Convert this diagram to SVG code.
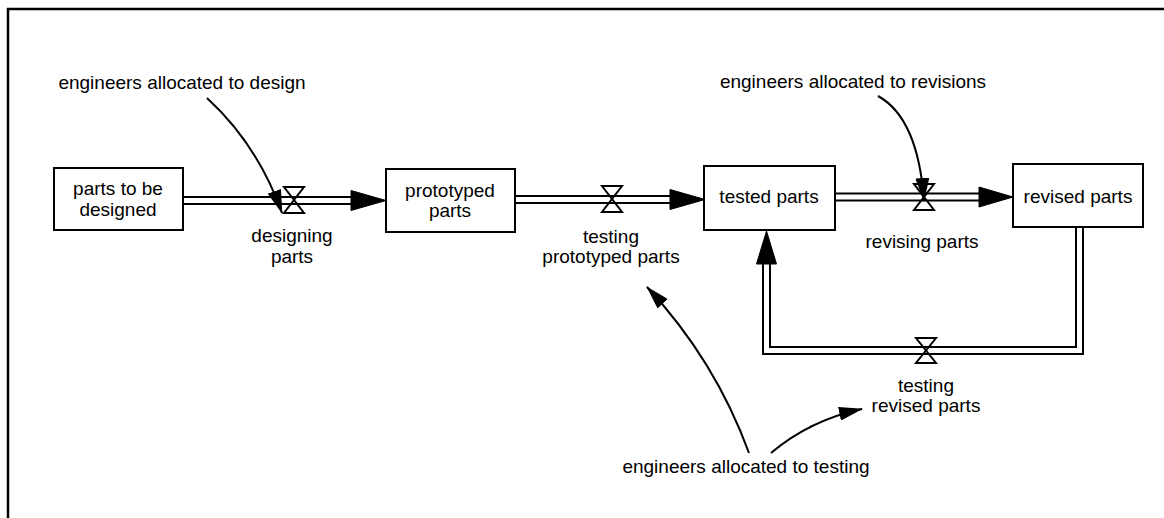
<svg xmlns="http://www.w3.org/2000/svg" width="1164" height="518" viewBox="0 0 1164 518">
<style>
text{font-family:"Liberation Sans",Arial,sans-serif;font-size:19px;fill:#000;text-anchor:middle}
.box{fill:#fff;stroke:#000;stroke-width:2}
.pipeO{fill:none;stroke:#000;stroke-width:9}
.pipeI{fill:none;stroke:#fff;stroke-width:5}
.valve{fill:none;stroke:#000;stroke-width:2;stroke-linejoin:miter}
.head{fill:#000;stroke:#000;stroke-width:1}
.inf{fill:none;stroke:#000;stroke-width:2;marker-end:url(#ah)}
.frame{stroke:#000;stroke-width:2.5;fill:none}
</style>
<defs>
<marker id="ah" markerUnits="userSpaceOnUse" markerWidth="24" markerHeight="14" viewBox="0 0 24 14" refX="23" refY="7" orient="auto">
<path d="M0,0 L24,7 L0,14 Z" fill="#000"/>
</marker>
</defs>
<rect width="1164" height="518" fill="#fff"/>
<g id="frame">
<path class="frame" d="M7,9 H1164 M8,8 V518"/>
</g>
<g id="connectors">
<!-- flow pipes -->
<path class="pipeO" d="M183,200.5 H352"/>
<path class="pipeI" d="M183,200.5 H352"/>
<path class="pipeO" d="M515,199.5 H671"/>
<path class="pipeI" d="M515,199.5 H671"/>
<path class="pipeO" d="M835,197 H980"/>
<path class="pipeI" d="M835,197 H980"/>
<path class="pipeO" d="M1079.5,228 V350.5 H766.5 V263"/>
<path class="pipeI" d="M1079.5,228 V350.5 H766.5 V263"/>
<!-- flow arrowheads -->
<polygon class="head" points="351,190.5 386,200.5 351,210.5"/>
<polygon class="head" points="670,189.5 705,199.5 670,209.5"/>
<polygon class="head" points="979,187 1013,197 979,207"/>
<polygon class="head" points="756.5,264 766.5,231 776.5,264"/>
<!-- influence arrows -->
<path class="inf" d="M207,98 Q258,145 282,213"/>
<path class="inf" d="M878,96 Q918,118 924,201"/>
<path class="inf" d="M749,453 Q715,360 647,287"/>
<path class="inf" d="M771,453 Q810,420 862,409"/>
</g>
<g id="stock-parts-to-be-designed">
<rect class="box" x="54" y="168" width="129" height="62"/>
<text x="118" y="195">parts to be</text>
<text x="118" y="216">designed</text>
</g>
<g id="stock-prototyped-parts">
<rect class="box" x="386" y="169" width="129" height="63"/>
<text x="450" y="197">prototyped</text>
<text x="450" y="217">parts</text>
</g>
<g id="stock-tested-parts">
<rect class="box" x="704" y="166" width="131" height="64"/>
<text x="769" y="203">tested parts</text>
</g>
<g id="stock-revised-parts">
<rect class="box" x="1013" y="164" width="130" height="63"/>
<text x="1078" y="203">revised parts</text>
</g>
<g id="flow-designing-parts">
<path class="valve" d="M284,187 H304 L284,213 H304 Z"/>
<text x="292" y="242">designing</text>
<text x="292" y="263">parts</text>
</g>
<g id="flow-testing-prototyped-parts">
<path class="valve" d="M602,186 H622 L602,212 H622 Z"/>
<text x="611" y="243">testing</text>
<text x="611" y="263">prototyped parts</text>
</g>
<g id="flow-revising-parts">
<path class="valve" d="M914,184 H934 L914,210 H934 Z"/>
<text x="922" y="248">revising parts</text>
</g>
<g id="flow-testing-revised-parts">
<path class="valve" d="M916,338 H936 L916,363 H936 Z"/>
<text x="926" y="392">testing</text>
<text x="926" y="412">revised parts</text>
</g>
<g id="aux-engineers-design">
<text x="182" y="89">engineers allocated to design</text>
</g>
<g id="aux-engineers-revisions">
<text x="853" y="88">engineers allocated to revisions</text>
</g>
<g id="aux-engineers-testing">
<text x="746" y="473">engineers allocated to testing</text>
</g>
</svg>
